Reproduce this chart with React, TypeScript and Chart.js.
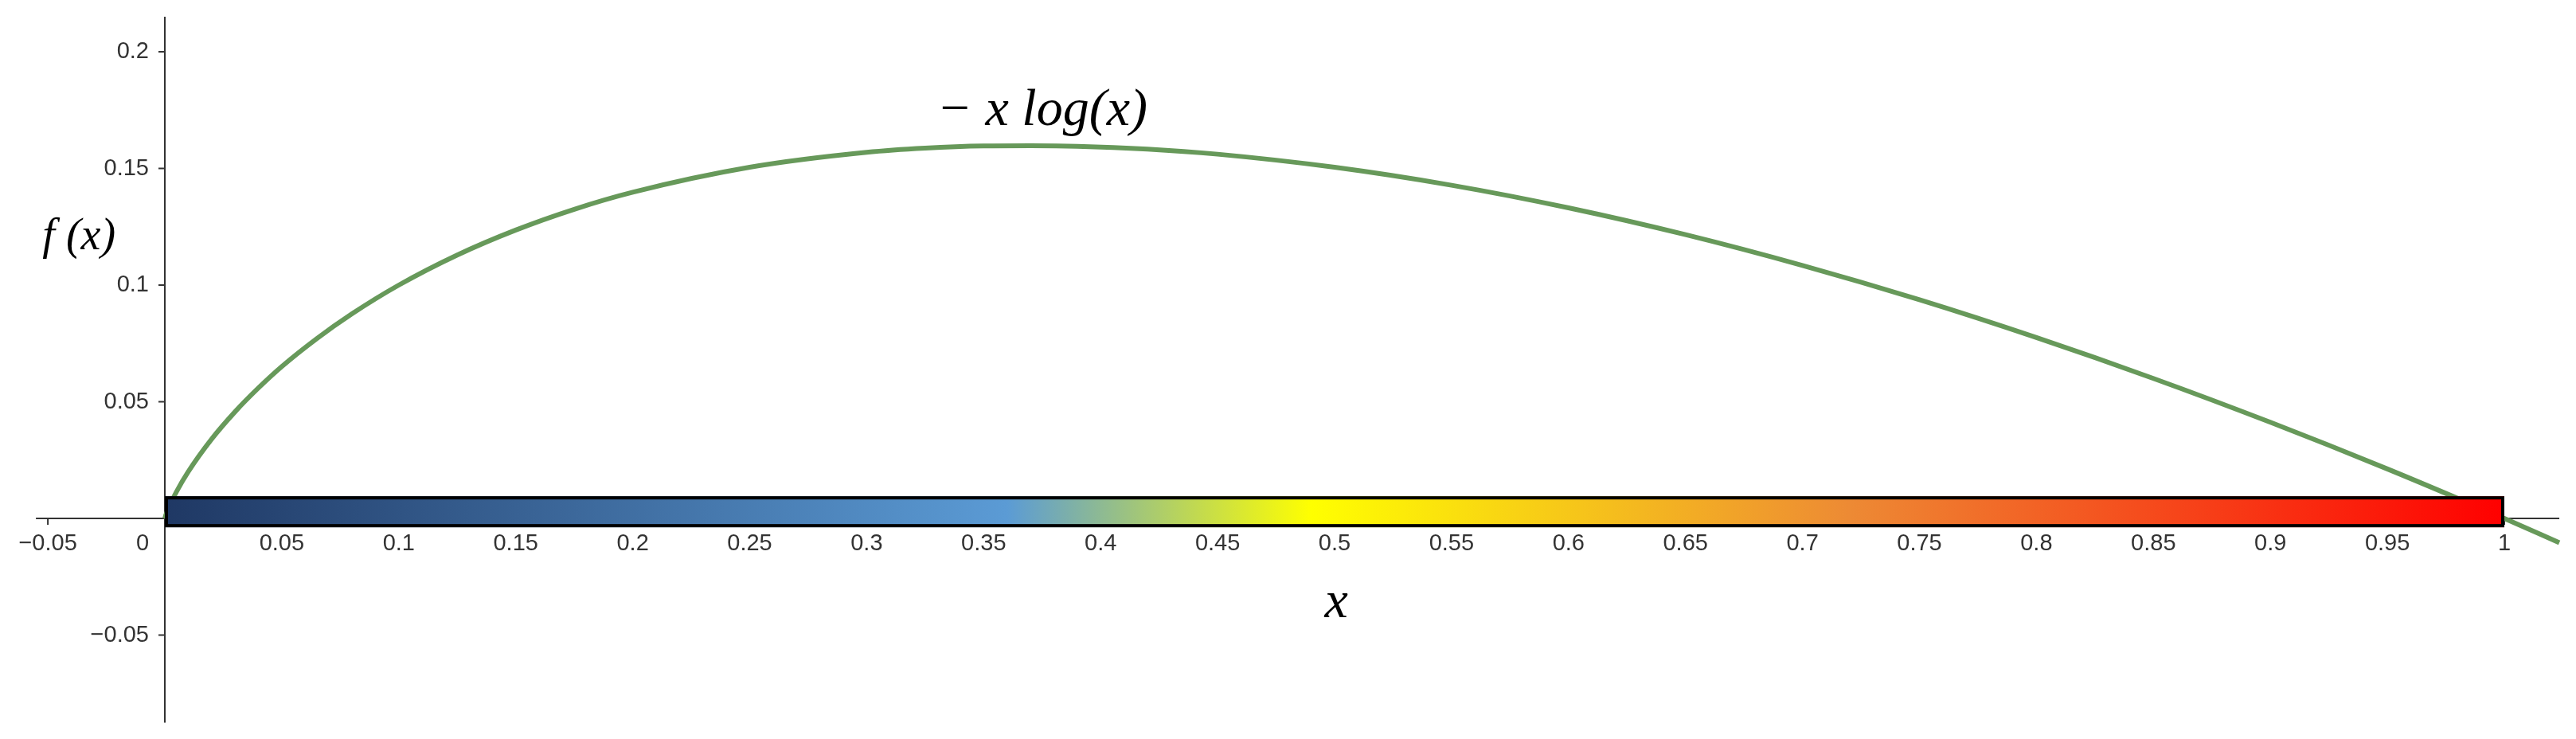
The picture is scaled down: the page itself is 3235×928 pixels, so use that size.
import React, { useEffect, useRef } from "react";
import { Chart, registerables } from "chart.js";

Chart.register(...registerables);

// ---- data ----
const X_VALUES = [0, 0.0005, 0.001, 0.0025, 0.005, 0.01, 0.02, 0.03, 0.04, 0.05, 0.065, 0.08, 0.1, 0.125, 0.15, 0.175, 0.2, 0.25, 0.3, 0.325, 0.35, 0.37, 0.39, 0.42, 0.45, 0.5, 0.55, 0.6, 0.65, 0.7, 0.75, 0.8, 0.85, 0.9, 0.95, 1.0, 1.0235];
const F_VALUES = [0, 0.0017, 0.003, 0.0065, 0.0115, 0.02, 0.034, 0.0457, 0.0559, 0.0651, 0.0771, 0.0877, 0.1, 0.1129, 0.1236, 0.1325, 0.1398, 0.1505, 0.1569, 0.1587, 0.1596, 0.1597, 0.1595, 0.1583, 0.1561, 0.1505, 0.1428, 0.1331, 0.1216, 0.1084, 0.0937, 0.0775, 0.06, 0.0412, 0.0212, 0, -0.0104];

const X_TICKS = [-0.05, 0, 0.05, 0.1, 0.15, 0.2, 0.25, 0.3, 0.35, 0.4, 0.45, 0.5, 0.55, 0.6, 0.65, 0.7, 0.75, 0.8, 0.85, 0.9, 0.95, 1];
const X_TICK_LABELS = ["−0.05", "0", "0.05", "0.1", "0.15", "0.2", "0.25", "0.3", "0.35", "0.4", "0.45", "0.5", "0.55", "0.6", "0.65", "0.7", "0.75", "0.8", "0.85", "0.9", "0.95", "1"];
const Y_TICKS = [-0.05, 0.05, 0.1, 0.15, 0.2];
const Y_TICK_LABELS = ["−0.05", "0.05", "0.1", "0.15", "0.2"];

// colour bar spanning x = 0 .. 1
const COLORBAR_RANGE = [0, 1];
const COLORBAR_Y = [-0.0038, 0.0095];
const COLOR_STOPS = [0, 0.36, 0.49, 0.72, 1];
const COLOR_VALUES = ["#1f3864", "#5b9bd5", "#ffff00", "#ed8a34", "#ff0000"];

// axis extents
const X_AXIS_RANGE = [-0.0551, 1.0235];
const Y_AXIS_RANGE = [-0.0875, 0.215];

const W = 3235;
const H = 928;
const X0PX = 207;
const XUNIT = 2938;
const Y0PX = 651;
const YUNIT = 2930;

const X_MIN = -X0PX / XUNIT;
const X_MAX = (W - X0PX) / XUNIT;
const Y_MAX = Y0PX / YUNIT;
const Y_MIN = -(H - Y0PX) / YUNIT;

const TICK_FONT = "29px 'Liberation Sans', Arial, sans-serif";
const TICK_COLOR = "#333333";
const AXIS_COLOR = "#333333";
const MATH_FONT = "'Liberation Serif', 'Times New Roman', serif";

const axesPlugin = {
  id: "geoAxes",
  beforeDatasetsDraw(chart: any) {
    const { ctx, scales } = chart;
    const xs = scales.x;
    const ys = scales.y;
    const px = (v: number) => xs.getPixelForValue(v);
    const py = (v: number) => ys.getPixelForValue(v);
    ctx.save();
    ctx.strokeStyle = AXIS_COLOR;
    ctx.lineWidth = 2;
    // x axis
    ctx.beginPath();
    ctx.moveTo(px(X_AXIS_RANGE[0]), py(0));
    ctx.lineTo(px(X_AXIS_RANGE[1]), py(0));
    ctx.stroke();
    // y axis
    ctx.beginPath();
    ctx.moveTo(px(0), py(Y_AXIS_RANGE[1]));
    ctx.lineTo(px(0), py(Y_AXIS_RANGE[0]));
    ctx.stroke();
    // x tick marks
    X_TICKS.forEach((t) => {
      if (t === 0) return;
      ctx.beginPath();
      ctx.moveTo(px(t), py(0));
      ctx.lineTo(px(t), py(0) + 8);
      ctx.stroke();
    });
    // y tick marks
    Y_TICKS.forEach((t) => {
      ctx.beginPath();
      ctx.moveTo(px(0) - 8, py(t));
      ctx.lineTo(px(0), py(t));
      ctx.stroke();
    });
    ctx.restore();
  },
  afterDatasetsDraw(chart: any) {
    const { ctx, scales } = chart;
    const xs = scales.x;
    const ys = scales.y;
    const px = (v: number) => xs.getPixelForValue(v);
    const py = (v: number) => ys.getPixelForValue(v);
    ctx.save();
    // colour bar
    const x0 = px(COLORBAR_RANGE[0]);
    const x1 = px(COLORBAR_RANGE[1]);
    const yTop = py(COLORBAR_Y[1]);
    const yBot = py(COLORBAR_Y[0]);
    const grad = ctx.createLinearGradient(x0, 0, x1, 0);
    COLOR_STOPS.forEach((s, i) => grad.addColorStop(s, COLOR_VALUES[i]));
    ctx.fillStyle = grad;
    ctx.fillRect(x0, yTop, x1 - x0, yBot - yTop);
    ctx.strokeStyle = "#000000";
    ctx.lineWidth = 4;
    ctx.strokeRect(x0 + 2, yTop + 2, x1 - x0 - 4, yBot - yTop - 4);

    // tick labels
    ctx.font = TICK_FONT;
    ctx.fillStyle = TICK_COLOR;
    ctx.textBaseline = "middle";
    ctx.textAlign = "center";
    X_TICKS.forEach((t, i) => {
      const x = t === 0 ? px(t) - 28 : px(t);
      ctx.fillText(X_TICK_LABELS[i], x, py(0) + 32);
    });
    ctx.textAlign = "right";
    Y_TICKS.forEach((t, i) => {
      ctx.fillText(Y_TICK_LABELS[i], px(0) - 20, py(t));
    });

    // math labels
    ctx.fillStyle = "#000000";
    ctx.textAlign = "center";
    ctx.textBaseline = "alphabetic";
    ctx.font = `italic 66px ${MATH_FONT}`;
    ctx.fillText("− x log(x)", px(0.375), py(0.1686));
    ctx.font = `italic 56px ${MATH_FONT}`;
    ctx.fillText("f (x)", px(-0.0367), py(0.1212) + 17);
    ctx.font = `italic 66px ${MATH_FONT}`;
    ctx.fillText("x", px(0.5007), py(-0.0423));
    ctx.restore();
  },
};

export default function App() {
  const ref = useRef<HTMLCanvasElement | null>(null);
  useEffect(() => {
    if (!ref.current) return;
    const chart = new Chart(ref.current, {
      type: "line",
      data: {
        datasets: [
          {
            label: "-x log(x)",
            data: X_VALUES.map((x, i) => ({ x, y: F_VALUES[i] })),
            borderColor: "#67995a",
            borderWidth: 6,
            pointRadius: 0,
            fill: false,
            cubicInterpolationMode: "monotone",
          },
        ],
      },
      options: {
        animation: false,
        responsive: false,
        devicePixelRatio: 1,
        layout: { padding: 0 },
        plugins: { legend: { display: false }, tooltip: { enabled: false } },
        scales: {
          x: { type: "linear", min: X_MIN, max: X_MAX, display: false },
          y: { type: "linear", min: Y_MIN, max: Y_MAX, display: false },
        },
      },
      plugins: [axesPlugin],
    } as any);
    return () => chart.destroy();
  }, []);
  return (
    <div style={{ position: "absolute", left: 0, top: 0, width: W, height: H, background: "#ffffff" }}>
      <canvas ref={ref} width={W} height={H} style={{ width: W, height: H, display: "block" }} />
    </div>
  );
}
